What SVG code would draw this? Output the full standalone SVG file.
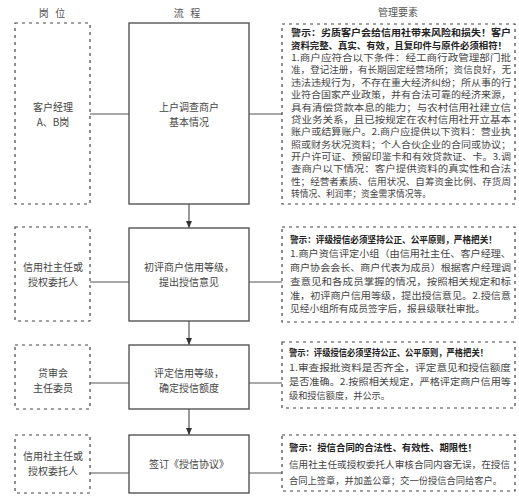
<svg xmlns="http://www.w3.org/2000/svg" width="519" height="500" viewBox="0 0 519 500">
<defs>
<marker id="arr" markerWidth="8" markerHeight="8" refX="7" refY="4" orient="auto" markerUnits="userSpaceOnUse">
<path d="M0,1 L7,4 L0,7 Z" fill="#333"/>
</marker>
<style>
text{font-family:"Noto Sans CJK SC","Noto Sans",sans-serif;font-size:10px;fill:#444}
.c{text-anchor:middle}
.m{font-size:9.5px}
.m1{font-size:9px}
.w{font-weight:bold;fill:#222}
.h{fill:#555}
.dash{fill:none;stroke:#444;stroke-width:1.2;stroke-dasharray:3 4}
.proc{fill:#fff;stroke:#555;stroke-width:1.4}
.ln{stroke:#555;stroke-width:1.2;fill:none}
</style>
</defs>
<rect width="519" height="500" fill="#fff"/>
<g id="headers">
<text class="c h" x="52" y="16.5" xml:space="preserve">岗   位</text>
<text class="c h" x="187" y="16.5" xml:space="preserve">流   程</text>
<text class="c h" x="398" y="15.5">管理要素</text>
</g>
<g id="connectors">
<line class="ln" x1="90" y1="114" x2="129" y2="114"/>
<line class="ln" x1="249" y1="114" x2="282" y2="114"/>
<line class="ln" x1="90" y1="282" x2="129" y2="282"/>
<line class="ln" x1="249" y1="282" x2="282" y2="282"/>
<line class="ln" x1="90" y1="383" x2="129" y2="383"/>
<line class="ln" x1="249" y1="383" x2="282" y2="383"/>
<line class="ln" x1="90" y1="473" x2="129" y2="473"/>
<line class="ln" x1="249" y1="473" x2="282" y2="473"/>
<line class="ln" x1="189" y1="204" x2="189" y2="228" marker-end="url(#arr)"/>
<line class="ln" x1="189" y1="321" x2="189" y2="345" marker-end="url(#arr)"/>
<line class="ln" x1="189" y1="409" x2="189" y2="435" marker-end="url(#arr)"/>
</g>
<g id="role1">
<rect class="dash" x="15" y="23" width="75" height="181"/>
<text class="c" x="53" y="110.5">客户经理</text>
<text class="c" x="53" y="125.5">A、B岗</text>
</g>
<g id="role2">
<rect class="dash" x="15" y="227" width="75" height="94"/>
<text class="c" x="53" y="270.5">信用社主任或</text>
<text class="c" x="53" y="285.5">授权委托人</text>
</g>
<g id="role3">
<rect class="dash" x="15" y="345" width="75" height="64"/>
<text class="c" x="53" y="376.5">贷审会</text>
<text class="c" x="53" y="391.5">主任委员</text>
</g>
<g id="role4">
<rect class="dash" x="15" y="435" width="75" height="58"/>
<text class="c" x="53" y="459.5">信用社主任或</text>
<text class="c" x="53" y="474.5">授权委托人</text>
</g>
<g id="step1">
<rect class="proc" x="129" y="23" width="120" height="181"/>
<text class="c" x="189" y="110.5">上户调查商户</text>
<text class="c" x="189" y="125.5">基本情况</text>
</g>
<g id="step2">
<rect class="proc" x="129" y="228" width="120" height="93"/>
<text class="c" x="189" y="270.5">初评商户信用等级，</text>
<text class="c" x="189" y="285.5">提出授信意见</text>
</g>
<g id="step3">
<rect class="proc" x="129" y="345" width="120" height="64"/>
<text class="c" x="189" y="376.5">评定信用等级，</text>
<text class="c" x="189" y="391.5">确定授信额度</text>
</g>
<g id="step4">
<rect class="proc" x="129" y="435" width="120" height="58"/>
<text class="c" x="189" y="467.5">签订《授信协议》</text>
</g>
<g id="mgmt1">
<rect class="dash" x="282" y="24" width="233" height="180"/>
<text class="m1 w" x="291" y="36.2" textLength="220" lengthAdjust="spacingAndGlyphs">警示：劣质客户会给信用社带来风险和损失！客户</text>
<text class="m1 w" x="291" y="48.6" textLength="216" lengthAdjust="spacingAndGlyphs">资料完整、真实、有效，且复印件与原件必须相符！</text>
<text class="m1" x="291" y="61.0" textLength="220" lengthAdjust="spacingAndGlyphs">1.商户应符合以下条件：经工商行政管理部门批</text>
<text class="m1" x="291" y="73.3" textLength="220" lengthAdjust="spacingAndGlyphs">准，登记注册，有长期固定经营场所；资信良好，无</text>
<text class="m1" x="291" y="85.7" textLength="220" lengthAdjust="spacingAndGlyphs">违法违规行为，不存在重大经济纠纷；所从事的行</text>
<text class="m1" x="291" y="98.1" textLength="220" lengthAdjust="spacingAndGlyphs">业符合国家产业政策，并有合法可靠的经济来源，</text>
<text class="m1" x="291" y="110.5" textLength="220" lengthAdjust="spacingAndGlyphs">具有清偿贷款本息的能力；与农村信用社建立信</text>
<text class="m1" x="291" y="122.9" textLength="220" lengthAdjust="spacingAndGlyphs">贷业务关系，且已按规定在农村信用社开立基本</text>
<text class="m1" x="291" y="135.2" textLength="220" lengthAdjust="spacingAndGlyphs">账户或结算账户。2.商户应提供以下资料：营业执</text>
<text class="m1" x="291" y="147.6" textLength="220" lengthAdjust="spacingAndGlyphs">照或财务状况资料；个人合伙企业的合同或协议；</text>
<text class="m1" x="291" y="160.0" textLength="220" lengthAdjust="spacingAndGlyphs">开户许可证、预留印鉴卡和有效贷款证、卡。3.调</text>
<text class="m1" x="291" y="172.4" textLength="220" lengthAdjust="spacingAndGlyphs">查商户以下情况：客户提供资料的真实性和合法</text>
<text class="m1" x="291" y="184.7" textLength="220" lengthAdjust="spacingAndGlyphs">性；经营者素质、信用状况、自筹资金比例、存货周</text>
<text class="m1" x="291" y="197.1" textLength="140" lengthAdjust="spacingAndGlyphs">转情况、利润率；资金需求情况等。</text>
</g>
<g id="mgmt2">
<rect class="dash" x="282" y="227" width="233" height="95"/>
<text class="m w" x="290" y="243.3" textLength="207" lengthAdjust="spacingAndGlyphs">警示：评级授信必须坚持公正、公平原则，严格把关！</text>
<text class="m" x="290" y="257.1" textLength="221" lengthAdjust="spacingAndGlyphs">1.商户资信评定小组（由信用社主任、客户经理、</text>
<text class="m" x="290" y="270.9" textLength="221" lengthAdjust="spacingAndGlyphs">商户协会会长、商户代表为成员）根据客户经理调</text>
<text class="m" x="290" y="284.7" textLength="221" lengthAdjust="spacingAndGlyphs">查意见和各成员掌握的情况，按照相关规定和标</text>
<text class="m" x="290" y="298.5" textLength="221" lengthAdjust="spacingAndGlyphs">准，初评商户信用等级，提出授信意见。2.授信意</text>
<text class="m" x="290" y="312.3" textLength="195" lengthAdjust="spacingAndGlyphs">见经小组所有成员签字后，报县级联社审批。</text>
</g>
<g id="mgmt3">
<rect class="dash" x="282" y="342" width="233" height="66"/>
<text class="m w" x="289" y="356.3" textLength="199" lengthAdjust="spacingAndGlyphs">警示：评级授信必须坚持公正、公平原则，严格把关！</text>
<text class="m" x="289" y="370.8" textLength="222" lengthAdjust="spacingAndGlyphs">1.审查报批资料是否齐全，评定意见和授信额度</text>
<text class="m" x="289" y="385.3" textLength="222" lengthAdjust="spacingAndGlyphs">是否准确。2.按照相关规定，严格评定商户信用等</text>
<text class="m" x="289" y="399.3" textLength="101" lengthAdjust="spacingAndGlyphs">级和授信额度，并公示。</text>
</g>
<g id="mgmt4">
<rect class="dash" x="282" y="435" width="233" height="56"/>
<text class="m w" x="289" y="451.3" textLength="188" lengthAdjust="spacingAndGlyphs">警示：授信合同的合法性、有效性、期限性！</text>
<text class="m" x="289" y="468.3" textLength="221" lengthAdjust="spacingAndGlyphs">信用社主任或授权委托人审核合同内容无误，在授信</text>
<text class="m" x="289" y="484.3" textLength="213" lengthAdjust="spacingAndGlyphs">合同上签章，并加盖公章；交一份授信合同给客户。</text>
</g>
</svg>
